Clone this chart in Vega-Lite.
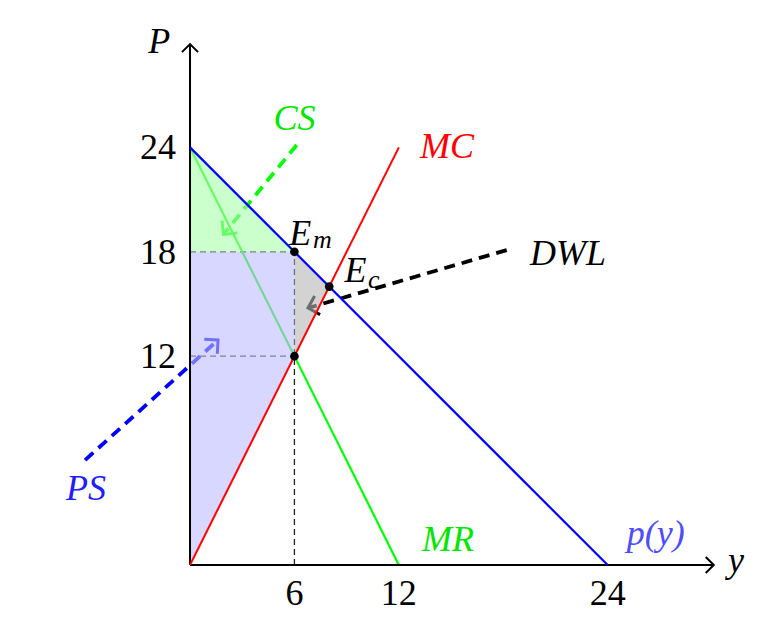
{
  "$schema": "https://vega.github.io/schema/vega-lite/v6.json",
  "width": 782,
  "height": 643,
  "padding": 0,
  "autosize": {"type": "none"},
  "config": {"view": {"stroke": null}, "font": "Liberation Serif"},
  "resolve": {"scale": {"color": "independent"}},
  "datasets": {
    "curves": [
      {"curve": "MR", "x": 0, "y": 24}, {"curve": "MR", "x": 12, "y": 0},
      {"curve": "MC", "x": 0, "y": 0}, {"curve": "MC", "x": 12, "y": 24},
      {"curve": "p(y)", "x": 0, "y": 24}, {"curve": "p(y)", "x": 24, "y": 0}
    ],
    "regions": [
      {"region": "CS", "x": 0, "y": 24, "y2": 18}, {"region": "CS", "x": 6, "y": 18, "y2": 18},
      {"region": "PS", "x": 0, "y": 18, "y2": 0}, {"region": "PS", "x": 6, "y": 18, "y2": 12},
      {"region": "DWL", "x": 6, "y": 18, "y2": 12}, {"region": "DWL", "x": 8, "y": 16, "y2": 16}
    ],
    "guides": [
      {"x": 0, "y": 18, "x2": 6, "y2": 18},
      {"x": 0, "y": 12, "x2": 6, "y2": 12},
      {"x": 6, "y": 0, "x2": 6, "y2": 18}
    ],
    "pointers": [
      {"pointer": "CS", "end": "from", "x": 6.13, "y": 24.14},
      {"pointer": "CS", "end": "to", "x": 1.92, "y": 19.0},
      {"pointer": "DWL", "end": "from", "x": 18.2, "y": 18.1},
      {"pointer": "DWL", "end": "to", "x": 6.78, "y": 14.77},
      {"pointer": "PS", "end": "from", "x": -6.03, "y": 6.03},
      {"pointer": "PS", "end": "to", "x": 1.61, "y": 12.93}
    ],
    "axes": [
      {"axis": "x", "end": "from", "x": 0, "y": 0}, {"axis": "x", "end": "to", "x": 30.1, "y": 0},
      {"axis": "y", "end": "from", "x": 0, "y": 0}, {"axis": "y", "end": "to", "x": 0, "y": 29.94}
    ],
    "points": [
      {"name": "Em", "x": 6, "y": 18}, {"name": "Ec", "x": 8, "y": 16}, {"name": "MRMC", "x": 6, "y": 12}
    ],
    "labels": [
      {"text": "P", "x": -2.4, "y": 29.43},
      {"text": "y", "x": 30.92, "y": -0.4},
      {"text": "CS", "x": 4.8, "y": 25.0},
      {"text": "MC", "x": 13.22, "y": 23.39},
      {"text": "DWL", "x": 19.54, "y": 17.24},
      {"text": "MR", "x": 13.33, "y": 0.8},
      {"text": "p(y)", "x": 25.1, "y": 1.15},
      {"text": "PS", "x": -7.13, "y": 3.74},
      {"text": "E", "x": 5.7, "y": 18.39},
      {"text": "E", "x": 8.88, "y": 16.28}
    ],
    "subscripts": [
      {"text": "m", "x": 7.07, "y": 18.22},
      {"text": "c", "x": 10.23, "y": 15.9}
    ],
    "xticks": [
      {"text": "6", "x": 6, "y": 0}, {"text": "12", "x": 12, "y": 0}, {"text": "24", "x": 24, "y": 0}
    ],
    "yticks": [
      {"text": "24", "x": 0, "y": 24}, {"text": "18", "x": 0, "y": 18}, {"text": "12", "x": 0, "y": 12}
    ]
  },
  "encoding": {
    "x": {"field": "x", "type": "quantitative", "scale": {"domain": [-10.92, 34.02], "nice": false, "zero": false}, "axis": null},
    "y": {"field": "y", "type": "quantitative", "stack": null, "scale": {"domain": [-4.483, 32.471], "nice": false, "zero": false}, "axis": null}
  },
  "layer": [
    {
      "data": {"name": "guides"},
      "mark": {"type": "rule", "color": "#222222", "strokeWidth": 1.3, "strokeDash": [6, 4]},
      "encoding": {"x2": {"field": "x2"}, "y2": {"field": "y2"}}
    },
    {
      "data": {"name": "curves"},
      "transform": [{"filter": "datum.curve === 'MR'"}],
      "mark": {"type": "line", "color": "#00ff00", "strokeWidth": 2.2},
      "encoding": {}
    },
    {
      "data": {"name": "pointers"},
      "mark": {"type": "line", "strokeWidth": 3.8, "strokeDash": [11, 7]},
      "encoding": {
        "order": {"value": null},
        "detail": {"field": "pointer"},
        "color": {"field": "pointer", "type": "nominal", "scale": {"domain": ["CS", "DWL", "PS"], "range": ["#00ff00", "#000000", "#0000ff"]}, "legend": null}
      }
    },
    {
      "data": {"name": "pointers"},
      "transform": [{"filter": "datum.end === 'to' && datum.pointer === 'CS'"}],
      "mark": {"type": "point", "shape": "M -1 -1 L 0 0 L -1 1", "angle": 129.5, "size": 380, "filled": false, "strokeWidth": 3, "color": "#00ff00", "opacity": 1}
    },
    {
      "data": {"name": "pointers"},
      "transform": [{"filter": "datum.end === 'to' && datum.pointer === 'DWL'"}],
      "mark": {"type": "point", "shape": "M -1 -1 L 0 0 L -1 1", "angle": 163.7, "size": 380, "filled": false, "strokeWidth": 3, "color": "#000000", "opacity": 1}
    },
    {
      "data": {"name": "pointers"},
      "transform": [{"filter": "datum.end === 'to' && datum.pointer === 'PS'"}],
      "mark": {"type": "point", "shape": "M -1 -1 L 0 0 L -1 1", "angle": -42, "size": 380, "filled": false, "strokeWidth": 3, "color": "#0000ff", "opacity": 1}
    },
    {
      "data": {"name": "regions"},
      "mark": {"type": "area", "opacity": 0.6},
      "encoding": {
        "y2": {"field": "y2"},
        "color": {"field": "region", "type": "nominal", "scale": {"domain": ["CS", "PS", "DWL"], "range": ["#a8ffa8", "#bcbcff", "#b6b6b6"]}, "legend": null}
      }
    },
    {
      "data": {"name": "axes"},
      "mark": {"type": "line", "color": "#000000", "strokeWidth": 2},
      "encoding": {"detail": {"field": "axis"}, "order": {"value": null}}
    },
    {
      "data": {"name": "axes"},
      "transform": [{"filter": "datum.end === 'to' && datum.axis === 'x'"}],
      "mark": {"type": "point", "shape": "M -1 -1 L 0 0 L -1 1", "angle": 0, "size": 260, "filled": false, "strokeWidth": 2, "color": "#000000", "opacity": 1}
    },
    {
      "data": {"name": "axes"},
      "transform": [{"filter": "datum.end === 'to' && datum.axis === 'y'"}],
      "mark": {"type": "point", "shape": "M -1 -1 L 0 0 L -1 1", "angle": -90, "size": 260, "filled": false, "strokeWidth": 2, "color": "#000000", "opacity": 1}
    },
    {
      "data": {"name": "curves"},
      "transform": [{"filter": "datum.curve === 'MC'"}],
      "mark": {"type": "line", "color": "#ff0000", "strokeWidth": 2},
      "encoding": {}
    },
    {
      "data": {"name": "curves"},
      "transform": [{"filter": "datum.curve === 'p(y)'"}],
      "mark": {"type": "line", "color": "#0000ff", "strokeWidth": 2.2},
      "encoding": {}
    },
    {
      "data": {"name": "points"},
      "mark": {"type": "circle", "size": 75, "color": "#000000", "opacity": 1}
    },
    {
      "data": {"name": "labels"},
      "mark": {"type": "text", "align": "left", "baseline": "alphabetic", "fontStyle": "italic", "fontSize": 36, "font": "Liberation Serif"},
      "encoding": {
        "text": {"field": "text"},
        "color": {"field": "text", "type": "nominal", "scale": {"domain": ["P", "y", "CS", "MC", "DWL", "MR", "p(y)", "PS", "E"], "range": ["#000000", "#000000", "#00e600", "#ff0000", "#000000", "#00e600", "#4d4dff", "#2020ff", "#000000"]}, "legend": null}
      }
    },
    {
      "data": {"name": "subscripts"},
      "mark": {"type": "text", "align": "left", "baseline": "alphabetic", "fontStyle": "italic", "fontSize": 26, "font": "Liberation Serif", "color": "#000000"},
      "encoding": {"text": {"field": "text"}}
    },
    {
      "data": {"name": "xticks"},
      "mark": {"type": "text", "align": "center", "baseline": "alphabetic", "dy": 40, "fontSize": 36, "font": "Liberation Serif", "color": "#000000"},
      "encoding": {"text": {"field": "text"}}
    },
    {
      "data": {"name": "yticks"},
      "mark": {"type": "text", "align": "right", "baseline": "alphabetic", "dx": -14, "dy": 12, "fontSize": 36, "font": "Liberation Serif", "color": "#000000"},
      "encoding": {"text": {"field": "text"}}
    }
  ]
}
